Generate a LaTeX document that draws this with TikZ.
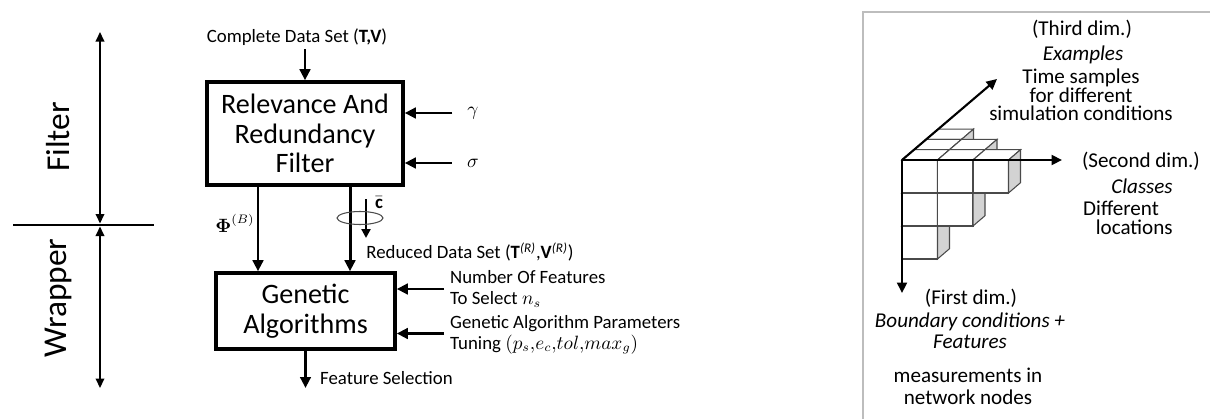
\documentclass[tikz,border=0pt]{standalone}
\usepackage{amsmath}
\usepackage{fontspec}
\setmainfont{Carlito}
\usetikzlibrary{positioning,arrows.meta,calc}
\definecolor{framegray}{HTML}{BDBDBD}
\definecolor{facegray}{HTML}{D3D3D3}
\definecolor{edgegray}{HTML}{4A4A4A}

\begin{document}
\begin{tikzpicture}[x=0.2mm, y=-0.2mm,
    every node/.style={font=\fontsize{10.7}{11.6}\selectfont},
    blockbox/.style={draw, line width=2pt, align=center, inner sep=0pt,
                     font=\fontsize{16}{16.8}\selectfont},
    flow/.style={line width=1.7pt, -{Triangle[length=2.2mm,width=2.1mm]}},
    span/.style={line width=1.2pt, {Triangle[length=1.9mm,width=1.7mm]}-{Triangle[length=1.9mm,width=1.7mm]}},
    axis/.style={line width=1.2pt, -{Triangle[length=2.1mm,width=2mm]}},
    cubeedge/.style={draw=edgegray, line width=0.6pt},
    rtext/.style={font=\fontsize{12}{10.5}\selectfont, align=center}]
  \useasboundingbox (0,0) rectangle (1210,419);

  % filter / wrapper scale
  \coordinate (ftop) at (100,32);
  \coordinate (fmid) at (100,225);
  \coordinate (wbot) at (100,388);
  \coordinate (divl) at (13,225);
  \coordinate (divr) at (154,225);
  \draw[line width=0.8pt] (divl) -- (divr);
  \draw[span] (ftop) -- ([yshift=0.3mm]fmid);
  \draw[span] ([yshift=-0.3mm]fmid) -- (wbot);
  \node[rotate=90, font=\fontsize{19}{20}\selectfont] (filterlbl) at (58,137) {Filter};
  \node[rotate=90, font=\fontsize{19}{20}\selectfont] (wraplbl) at (58,298) {Wrapper};

  % blocks
  \node[blockbox, minimum width=39.2mm, minimum height=20.6mm] (relfilt) at (305,133.5)
        {Relevance And\\Redundancy\\Filter};
  \node[blockbox, minimum width=35.8mm, minimum height=15.2mm] (genalg) at (305.5,311)
        {Genetic\\Algorithms};

  % inputs of the filter
  \node[inner sep=2pt] (cds) at (297,37) {Complete Data Set (\textbf{T,V})};
  \draw[flow] (cds.south -| relfilt.north) -- (relfilt.north);
  \node (gamma) at (473,113) {$\gamma$};
  \draw[flow] ([xshift=-1.8mm]gamma.west) -- (gamma.west -| relfilt.east);
  \node (sigma) at (473,163) {$\sigma$};
  \draw[flow] ([xshift=-1.8mm]sigma.west) -- (sigma.west -| relfilt.east);

  % filter to wrapper
  \draw[flow] ([xshift=-9.4mm]relfilt.south) -- ([xshift=-9.4mm]relfilt.south |- genalg.north);
  \draw[flow] ([xshift=9mm]relfilt.south) -- ([xshift=9mm]relfilt.south |- genalg.north);
  \node (phib) at (235,223) {$\boldsymbol{\Phi}^{(B)}$};
  \coordinate (ctop) at (366,199);
  \coordinate (cend) at (366,238);
  \draw[line width=1.4pt, -{Triangle[length=1.8mm,width=1.8mm]}] (ctop) -- (cend);
  \node (cbar) at (379,203) {$\bar{\mathbf{c}}$};
  \draw[edgegray, line width=0.6pt] (360,218) ellipse [x radius=4.6mm, y radius=1.3mm];
  \node (reduced) at (470,252)
        {Reduced Data Set (\textbf{T}\textsuperscript{\textit{(R)}},\textbf{V}\textsuperscript{\textit{(R)}})};

  % inputs of the genetic algorithms
  \node[anchor=west, align=left] (nfeat) at (444,289) {Number Of Features\\To Select $n_s$};
  \draw[flow] (nfeat.west) -- (nfeat.west -| genalg.east);
  \node[anchor=west, align=left] (gapar) at (444,335)
        {Genetic Algorithm Parameters\\Tuning $(p_s{,}e_c{,}tol{,}max_g)$};
  \draw[flow] ([yshift=0.3mm]gapar.west) -- ([yshift=0.3mm]gapar.west -| genalg.east);
  \coordinate (fout) at (306,388);
  \draw[flow] (genalg.south) -- (genalg.south |- fout);
  \node[anchor=west] (fsel) at (314,378) {Feature Selection};

  % data cube panel
  \draw[framegray, line width=0.8pt] (863,419) -- (863,12) -- (1210,12);
  \foreach \c/\r/\d in {0/0/2, 0/1/1, 0/0/1, 1/0/1, 0/2/0, 0/1/0, 1/1/0, 0/0/0, 1/0/0, 2/0/0} {
    \begin{scope}[shift={(902+35.5*\c+12*\d, 160+33*\r-10.3*\d)}]
      \draw[cubeedge, fill=white] (0,0) rectangle (35.5,33);
      \draw[cubeedge, fill=white] (0,0) -- (12,-10.3) -- (47.5,-10.3) -- (35.5,0) -- cycle;
      \draw[cubeedge, fill=facegray] (35.5,0) -- (47.5,-10.3) -- (47.5,22.7) -- (35.5,33) -- cycle;
    \end{scope}
  }
  \coordinate (orig) at (902,160);
  \coordinate (xend) at (1062,160);
  \coordinate (yend) at (902,293);
  \coordinate (zend) at (997,79);
  \draw[axis] (orig) -- (xend);
  \draw[axis] (orig) -- (yend);
  \draw[axis] (orig) -- (zend);

  \node[rtext] (thirddim) at (1082,29) {(Third dim.)};
  \node[rtext] (examples) at (1083,55) {\textit{Examples}};
  \node[rtext] (timesamp) at (1081,95) {Time samples\\for different\\simulation conditions};
  \node[rtext] (seconddim) at (1141,161) {(Second dim.)};
  \node[rtext] (classes) at (1142,186) {\textit{Classes}};
  \node[rtext, align=left, anchor=west] (diffloc) at (1077,218) {Different\\\hspace*{0.6em}locations};
  \node[rtext] (firstdim) at (971,298) {(First dim.)};
  \node[rtext, font=\fontsize{12}{12}\selectfont] (boundcond) at (970,331)
        {\textit{Boundary conditions +}\\\textit{Features}};
  \node[rtext, font=\fontsize{12}{12.5}\selectfont] (measnodes) at (968,386)
        {measurements in\\network nodes};
\end{tikzpicture}
\end{document}
